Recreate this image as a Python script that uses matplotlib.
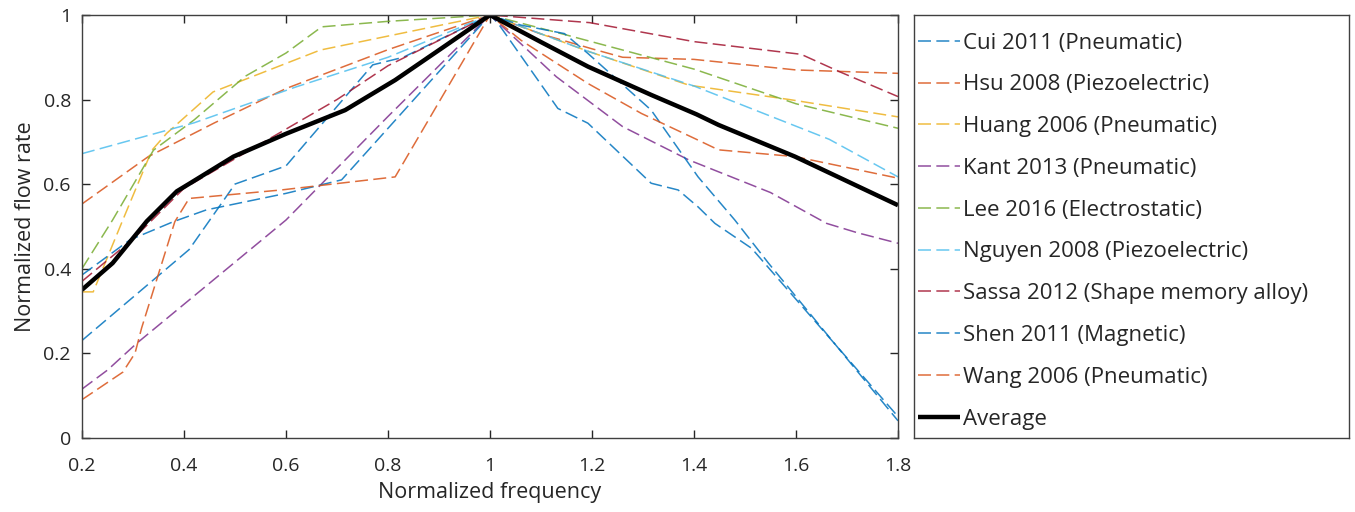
import matplotlib
matplotlib.use("Agg")
import matplotlib.pyplot as plt
from matplotlib.ticker import FuncFormatter

plt.rcParams['font.family'] = ['Open Sans', 'DejaVu Sans']

cui_f = [0.2, 0.41, 0.5, 0.6, 0.77, 0.83, 1.0, 1.016, 1.133, 1.192, 1.316, 1.369, 1.408, 1.441, 1.513, 1.8]
cui_v = [0.23, 0.445, 0.6, 0.643, 0.882, 0.9, 1.0, 0.98, 0.779, 0.744, 0.602, 0.586, 0.546, 0.507, 0.448, 0.05]

hsu_f = [0.2, 0.33, 0.46, 0.6, 0.8, 1.0, 1.1, 1.2, 1.26, 1.4, 1.6, 1.8]
hsu_v = [0.553, 0.665, 0.745, 0.826, 0.918, 1.0, 0.955, 0.92, 0.90, 0.895, 0.87, 0.862]

huang_f = [0.2, 0.222, 0.28, 0.337, 0.366, 0.457, 0.667, 1.0, 1.195, 1.39, 1.587, 1.8]
huang_v = [0.345, 0.345, 0.515, 0.68, 0.72, 0.818, 0.917, 1.0, 0.913, 0.834, 0.800, 0.759]

kant_f = [0.2, 0.25, 0.307, 0.6, 0.8, 1.0, 1.13, 1.26, 1.39, 1.55, 1.66, 1.72, 1.8]
kant_v = [0.115, 0.16, 0.223, 0.515, 0.76, 1.0, 0.854, 0.736, 0.657, 0.58, 0.507, 0.485, 0.46]

lee_f = [0.2, 0.26, 0.34, 0.42, 0.52, 0.6, 0.67, 0.8, 1.0, 1.149, 1.4, 1.6, 1.8]
lee_v = [0.40, 0.515, 0.68, 0.752, 0.855, 0.91, 0.972, 0.985, 1.0, 0.953, 0.872, 0.79, 0.732]

nguyen_f = [0.2, 0.42, 0.62, 0.8, 1.0, 1.195, 1.4, 1.665, 1.8]
nguyen_v = [0.672, 0.745, 0.83, 0.90, 1.0, 0.913, 0.832, 0.706, 0.617]

sassa_f = [0.2, 0.3, 0.4, 0.6, 0.7, 0.8, 1.0, 1.195, 1.4, 1.61, 1.685, 1.8]
sassa_v = [0.37, 0.47, 0.59, 0.73, 0.80, 0.88, 1.0, 0.982, 0.937, 0.907, 0.866, 0.807]

shen_f = [0.2, 0.294, 0.379, 0.444, 0.6, 0.709, 1.0, 1.061, 1.146, 1.192, 1.316, 1.408, 1.48, 1.546, 1.8]
shen_v = [0.385, 0.468, 0.511, 0.539, 0.578, 0.61, 1.0, 0.976, 0.956, 0.909, 0.775, 0.617, 0.515, 0.413, 0.04]

wang_f = [0.2, 0.28, 0.304, 0.317, 0.382, 0.41, 0.59, 0.814, 1.0, 1.061, 1.192, 1.297, 1.401, 1.448, 1.598, 1.8]
wang_v = [0.09, 0.155, 0.2, 0.26, 0.511, 0.566, 0.586, 0.617, 1.0, 0.94, 0.838, 0.767, 0.708, 0.681, 0.665, 0.614]

avg_f = [0.2, 0.26, 0.327, 0.386, 0.412, 0.497, 0.6, 0.716, 0.814, 0.9, 1.0, 1.1, 1.192, 1.316, 1.405, 1.448, 1.598, 1.8]
avg_v = [0.35, 0.413, 0.512, 0.583, 0.602, 0.665, 0.719, 0.775, 0.846, 0.917, 1.0, 0.936, 0.878, 0.811, 0.765, 0.74, 0.665, 0.55]

series = [
    ("Cui 2011 (Pneumatic)", cui_f, cui_v, "#0072BD"),
    ("Hsu 2008 (Piezoelectric)", hsu_f, hsu_v, "#D95319"),
    ("Huang 2006 (Pneumatic)", huang_f, huang_v, "#EDB120"),
    ("Kant 2013 (Pneumatic)", kant_f, kant_v, "#7E2F8E"),
    ("Lee 2016 (Electrostatic)", lee_f, lee_v, "#77AC30"),
    ("Nguyen 2008 (Piezoelectric)", nguyen_f, nguyen_v, "#4DBEEE"),
    ("Sassa 2012 (Shape memory alloy)", sassa_f, sassa_v, "#A2142F"),
    ("Shen 2011 (Magnetic)", shen_f, shen_v, "#0072BD"),
    ("Wang 2006 (Pneumatic)", wang_f, wang_v, "#D95319"),
]

W, H = 1355, 512
fig = plt.figure(figsize=(W / 100, H / 100), dpi=100)
ax = fig.add_axes([82 / W, 1 - 437.7 / H, (898 - 82) / W, (437.7 - 15) / H])

for name, f, v, c in series:
    ax.plot(f, v, color=c, lw=1.1, dashes=(8.5, 3.5), alpha=0.85, label=name)
ax.plot(avg_f, avg_v, color="black", lw=3.2, label="Average", solid_capstyle="butt")

ax.set_xlim(0.2, 1.8)
ax.set_ylim(0, 1)
ax.set_xticks([0.2, 0.4, 0.6, 0.8, 1.0, 1.2, 1.4, 1.6, 1.8])
ax.set_yticks([0, 0.2, 0.4, 0.6, 0.8, 1.0])
fmt = FuncFormatter(lambda x, p: "%g" % round(x, 2))
ax.xaxis.set_major_formatter(fmt)
ax.yaxis.set_major_formatter(fmt)
ax.tick_params(direction="in", length=6, width=1, top=True, right=True,
               labelsize=14, color="#262626", labelcolor="#262626")
ax.tick_params(axis="x", pad=14)
ax.tick_params(axis="y", pad=8)
for s in ax.spines.values():
    s.set_color("#404040")
    s.set_linewidth(1)
ax.set_xlabel("Normalized frequency", fontsize=15.5, color="#262626", labelpad=5)
ax.set_ylabel("Normalized flow rate", fontsize=15.5, color="#262626", labelpad=5)

# legend in its own boxed area to the right
lax = fig.add_axes([914 / W, 1 - 437.7 / H, (1349 - 914) / W, (437.7 - 15) / H])
lax.set_xticks([])
lax.set_yticks([])
for s in lax.spines.values():
    s.set_color("#404040")
    s.set_linewidth(1)
handles, labels = ax.get_legend_handles_labels()
leg = lax.legend(handles, labels, loc="upper left", frameon=False, fontsize=16,
                 handlelength=1.9, handletextpad=0.13, labelspacing=0.935,
                 borderaxespad=0.0, borderpad=0.79, bbox_to_anchor=(-0.031, 1.0))
for t in leg.get_texts():
    t.set_color("#262626")

fig.savefig("out.png", dpi=100)
